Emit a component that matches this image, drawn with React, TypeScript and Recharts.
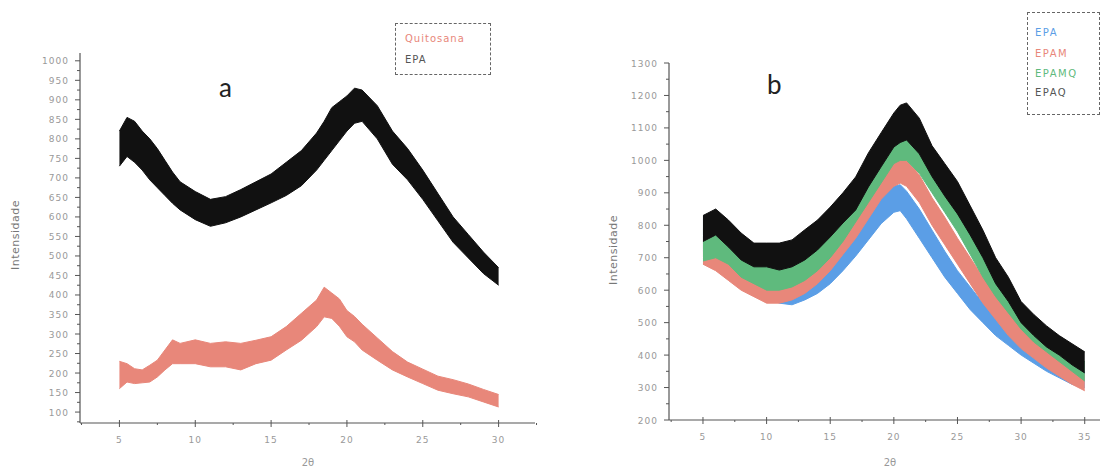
import { ComposedChart, Area, XAxis, YAxis } from "recharts"

// panel a: EPA vs Quitosana (read as lower/upper edge of the noisy band)
const xA = [5, 5.5, 6, 6.5, 7, 7.5, 8, 8.5, 9, 10, 11, 12, 13, 14, 15, 16, 17, 18, 18.5, 19, 19.5, 20, 20.5, 21, 22, 23, 24, 25, 26, 27, 28, 29, 30]
const quitLo = [160, 177, 173, 175, 177, 190, 208, 224, 224, 224, 216, 216, 208, 224, 233, 259, 284, 319, 344, 340, 320, 293, 280, 259, 233, 208, 190, 173, 156, 147, 139, 126, 113]
const quitHi = [230, 224, 211, 208, 220, 233, 259, 285, 276, 285, 276, 280, 276, 284, 293, 319, 353, 387, 420, 405, 390, 360, 345, 325, 290, 255, 228, 210, 192, 183, 172, 158, 145]
const epaALo = [730, 755, 740, 720, 695, 675, 655, 635, 618, 593, 576, 585, 600, 618, 636, 655, 680, 720, 745, 770, 795, 820, 840, 845, 800, 735, 695, 645, 590, 535, 495, 455, 425]
const epaAHi = [820, 855, 845, 820, 800, 775, 745, 715, 690, 665, 645, 652, 670, 690, 710, 740, 770, 815, 845, 880, 895, 910, 930, 925, 885, 820, 775, 720, 660, 600, 555, 510, 470]

// panel b: EPA, EPAM, EPAMQ, EPAQ
const xB = [5, 6, 7, 8, 9, 10, 11, 12, 13, 14, 15, 16, 17, 18, 19, 20, 20.5, 21, 22, 23, 24, 25, 26, 27, 28, 29, 30, 31, 32, 33, 34, 35]
const epaLo = [720, 720, 680, 640, 610, 580, 560, 555, 570, 590, 620, 660, 705, 755, 805, 840, 845, 820, 760, 700, 640, 590, 540, 500, 460, 430, 400, 375, 350, 330, 310, 300]
const epaHi = [820, 830, 770, 720, 680, 650, 620, 615, 635, 670, 705, 745, 795, 845, 885, 920, 925, 905, 850, 785, 720, 660, 610, 560, 520, 490, 460, 430, 410, 385, 365, 350]
const epamLo = [680, 660, 630, 600, 580, 560, 560, 570, 590, 620, 660, 710, 760, 820, 880, 920, 930, 920, 870, 800, 740, 680, 620, 560, 510, 460, 420, 390, 360, 335, 310, 290]
const epamHi = [760, 740, 700, 670, 640, 630, 620, 630, 660, 700, 740, 790, 850, 910, 960, 1000, 1010, 1000, 955, 885, 825, 760, 700, 640, 590, 540, 490, 450, 420, 390, 370, 340]
const epamqLo = [690, 700, 680, 640, 620, 600, 600, 610, 630, 660, 700, 750, 810, 870, 930, 990, 1000, 1000, 960, 900, 840, 780, 710, 640, 580, 530, 480, 440, 410, 380, 350, 320]
const epamqHi = [790, 800, 770, 725, 695, 680, 680, 690, 720, 760, 800, 850, 900, 960, 1030, 1080, 1095, 1095, 1055, 990, 930, 865, 795, 720, 655, 600, 540, 500, 470, 440, 410, 380]
const epaqLo = [750, 770, 733, 693, 672, 672, 662, 672, 693, 724, 764, 807, 847, 918, 980, 1041, 1055, 1063, 1020, 950, 890, 835, 770, 700, 620, 565, 500, 460, 425, 400, 370, 345]
const epaqHi = [830, 850, 816, 776, 745, 745, 745, 755, 786, 816, 856, 900, 949, 1023, 1085, 1146, 1170, 1177, 1130, 1045, 990, 935, 860, 785, 700, 640, 565, 525, 490, 460, 435, 410]

const xTicksA = [2.5, 5, 7.5, 10, 12.5, 15, 17.5, 20, 22.5, 25, 27.5, 30, 32.5]
const xTicksB = [2.5, 5, 7.5, 10, 12.5, 15, 17.5, 20, 22.5, 25, 27.5, 30, 32.5, 35]
const xMajor = [5, 10, 15, 20, 25, 30, 35]
const yTicksA = [75, 100, 125, 150, 175, 200, 225, 250, 275, 300, 325, 350, 375, 400, 425, 450, 475, 500, 525, 550, 575, 600, 625, 650, 675, 700, 725, 750, 775, 800, 825, 850, 875, 900, 925, 950, 975, 1000]
const yMajorA = [100, 150, 200, 250, 300, 350, 400, 450, 500, 550, 600, 650, 700, 750, 800, 850, 900, 950, 1000]
const yTicksB = [200, 250, 300, 350, 400, 450, 500, 550, 600, 650, 700, 750, 800, 850, 900, 950, 1000, 1050, 1100, 1150, 1200, 1250, 1300]
const yMajorB = [200, 300, 400, 500, 600, 700, 800, 900, 1000, 1100, 1200, 1300]

const QUIT = "#e8877a"
const BLUE = "#5b9ee6"
const GREEN = "#5fba7d"
const BLACK = "#111111"
const AXIS = "#555"
const LABEL = "#999"
const FONT = "'DejaVu Sans', sans-serif"

const dataA = xA.map((x, i) => ({ x, qLo: quitLo[i], qHi: quitHi[i], eLo: epaALo[i], eHi: epaAHi[i] }))
const dataB = xB.map((x, i) => ({
    x,
    aLo: epaLo[i], aHi: epaHi[i],
    mLo: epamLo[i], mHi: epamHi[i],
    mqLo: epamqLo[i], mqHi: epamqHi[i],
    qLo: epaqLo[i], qHi: epaqHi[i],
}))

function XTick(props: any) {
    const { x, y, payload } = props
    const major = xMajor.includes(payload.value)
    return (
        <g>
            <line x1={x} x2={x} y1={major ? y - 3 : y} y2={y + (major ? 4 : 2)} stroke={AXIS} />
            {major && (
                <text x={x} y={y + 20} textAnchor="middle" fontSize={9} fill={LABEL} fontFamily={FONT} letterSpacing={1}>
                    {payload.value}
                </text>
            )}
        </g>
    )
}

function YTick(props: any) {
    const { x, y, payload, majors } = props
    const major = majors.includes(payload.value)
    return (
        <g>
            <line x1={x - (major ? 5 : 3)} x2={x} y1={y} y2={y} stroke={AXIS} />
            {major && (
                <text x={x - 11} y={y + 3.5} textAnchor="end" fontSize={9} fill={LABEL} fontFamily={FONT} letterSpacing={1}>
                    {payload.value}
                </text>
            )}
        </g>
    )
}

function band(key: string, lo: string, hi: string, color: string) {
    return (
        <Area
            key={key}
            type="linear"
            dataKey={(d: any) => [d[lo], d[hi]]}
            stroke={color}
            strokeWidth={1}
            fill={color}
            fillOpacity={1}
            dot={false}
            activeDot={false}
            isAnimationActive={false}
        />
    )
}

const abs = (left: number, top: number): React.CSSProperties => ({ position: "absolute", left, top })

export default function App() {
    return (
        <div style={{ position: "absolute", left: 0, top: 0, width: 1103, height: 469, background: "#fff", fontFamily: FONT }}>
            <div style={abs(0, 0)}>
                <ComposedChart width={545} height={469} data={dataA} margin={{ top: 53, right: 10, left: 0, bottom: 0 }}>
                    <XAxis
                        dataKey="x"
                        type="number"
                        domain={[2.4, 32.4]}
                        ticks={xTicksA}
                        interval={0}
                        height={46}
                        tickSize={0}
                        tickMargin={0}
                        tick={(p: any) => <XTick {...p} />}
                        axisLine={{ stroke: AXIS, strokeWidth: 1.2 }}
                        allowDataOverflow
                    />
                    <YAxis
                        type="number"
                        domain={[72, 1020]}
                        ticks={yTicksA}
                        interval={0}
                        width={80}
                        tickSize={0}
                        tickMargin={0}
                        tick={(p: any) => <YTick {...p} majors={yMajorA} />}
                        axisLine={{ stroke: AXIS, strokeWidth: 1.2 }}
                        allowDataOverflow
                    />
                    {band("quit", "qLo", "qHi", QUIT)}
                    {band("epa", "eLo", "eHi", BLACK)}
                </ComposedChart>
            </div>
            <div style={abs(580, 0)}>
                <ComposedChart width={523} height={469} data={dataB} margin={{ top: 63, right: 3, left: 0, bottom: 0 }}>
                    <XAxis
                        dataKey="x"
                        type="number"
                        domain={[2.33, 36.2]}
                        ticks={xTicksB}
                        interval={0}
                        height={49}
                        tickSize={0}
                        tickMargin={0}
                        tick={(p: any) => <XTick {...p} />}
                        axisLine={{ stroke: AXIS, strokeWidth: 1.2 }}
                        allowDataOverflow
                    />
                    <YAxis
                        type="number"
                        domain={[200, 1300]}
                        ticks={yTicksB}
                        interval={0}
                        width={89}
                        tickSize={0}
                        tickMargin={0}
                        tick={(p: any) => <YTick {...p} majors={yMajorB} />}
                        axisLine={{ stroke: AXIS, strokeWidth: 1.2 }}
                        allowDataOverflow
                    />
                    {band("epa", "aLo", "aHi", BLUE)}
                    {band("epam", "mLo", "mHi", QUIT)}
                    {band("epamq", "mqLo", "mqHi", GREEN)}
                    {band("epaq", "qLo", "qHi", BLACK)}
                </ComposedChart>
            </div>

            {/* panel letters */}
            <div style={{ ...abs(219, 71), fontFamily: "Lato, sans-serif", fontSize: 26, color: "#222" }}>a</div>
            <div style={{ ...abs(767, 68), fontFamily: "Lato, sans-serif", fontSize: 26, color: "#222" }}>b</div>

            {/* axis titles */}
            <div style={{ ...abs(15, 235), width: 0, height: 0 }}>
                <div style={{ position: "absolute", transform: "translate(-50%, -50%) rotate(-90deg)", whiteSpace: "nowrap", fontSize: 11, color: "#777", letterSpacing: 0.5 }}>
                    Intensidade
                </div>
            </div>
            <div style={{ ...abs(613, 250), width: 0, height: 0 }}>
                <div style={{ position: "absolute", transform: "translate(-50%, -50%) rotate(-90deg)", whiteSpace: "nowrap", fontSize: 11, color: "#777", letterSpacing: 0.5 }}>
                    Intensidade
                </div>
            </div>
            <div style={{ ...abs(308, 462), transform: "translate(-50%, -50%)", fontSize: 10, color: "#999" }}>2θ</div>
            <div style={{ ...abs(890, 462), transform: "translate(-50%, -50%)", fontSize: 10, color: "#999" }}>2θ</div>

            {/* legend a */}
            <div style={{ ...abs(395, 23), width: 96, height: 52, border: "1px dashed #666", boxSizing: "border-box", fontSize: 10, letterSpacing: 1 }}>
                <div style={{ position: "absolute", left: 9, top: 9, color: QUIT }}>Quitosana</div>
                <div style={{ position: "absolute", left: 9, top: 30, color: "#555" }}>EPA</div>
            </div>

            {/* legend b */}
            <div style={{ ...abs(1027, 12), width: 73, height: 103, border: "1px dashed #666", boxSizing: "border-box", fontSize: 10, letterSpacing: 1.5 }}>
                <div style={{ position: "absolute", left: 7, top: 14, color: BLUE }}>EPA</div>
                <div style={{ position: "absolute", left: 7, top: 35, color: QUIT }}>EPAM</div>
                <div style={{ position: "absolute", left: 7, top: 55, color: GREEN }}>EPAMQ</div>
                <div style={{ position: "absolute", left: 7, top: 74, color: "#555" }}>EPAQ</div>
            </div>
        </div>
    )
}
